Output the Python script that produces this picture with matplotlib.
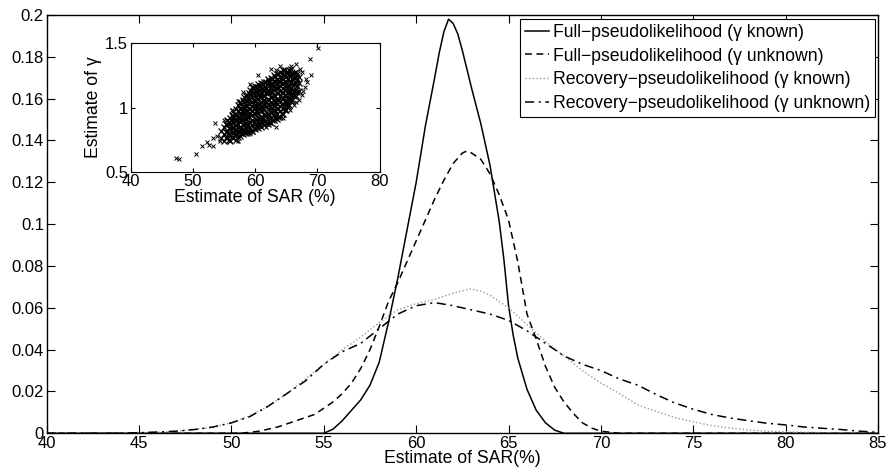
import matplotlib
matplotlib.use("Agg")
import matplotlib.pyplot as plt

plt.rcParams['font.family'] = ['Liberation Sans', 'DejaVu Sans']

# density curves
full_known_x = [40, 55.0, 55.5, 56.0, 56.5, 57.0, 57.5, 58.0, 58.5, 59.0, 59.5, 60.0, 60.5, 61.0,
                61.25, 61.5, 61.75, 62.0, 62.25, 62.5, 63.0, 63.5, 64.0, 64.5, 64.75, 65.0, 65.25,
                65.5, 66.0, 66.5, 67.0, 67.5, 68.0, 85]
full_known_y = [0, 0, 0.002, 0.006, 0.011, 0.016, 0.023, 0.034, 0.053, 0.074, 0.097, 0.120, 0.147, 0.170,
                0.182, 0.192, 0.198, 0.196, 0.191, 0.183, 0.165, 0.148, 0.128, 0.101, 0.083, 0.061, 0.047,
                0.036, 0.021, 0.011, 0.005, 0.0015, 0, 0]

full_unknown_x = [40, 50.5, 51.5, 52.5, 53.5, 54.5, 55.0, 55.5, 56.0, 56.5, 57.0, 57.5, 58.0, 58.5, 59.0,
                  59.5, 60.0, 60.5, 61.0, 61.5, 62.0, 62.5, 62.75, 63.0, 63.5, 64.0, 64.5, 65.0, 65.5,
                  66.0, 66.5, 67.0, 67.5, 68.0, 68.5, 69.0, 69.5, 70.0, 71.0, 85]
full_unknown_y = [0, 0, 0.001, 0.003, 0.006, 0.009, 0.012, 0.015, 0.019, 0.024, 0.031, 0.040, 0.051, 0.063, 0.072,
                  0.082, 0.092, 0.102, 0.112, 0.121, 0.129, 0.134, 0.135, 0.134, 0.131, 0.124, 0.114, 0.102, 0.082,
                  0.057, 0.045, 0.032, 0.022, 0.015, 0.0096, 0.005, 0.0025, 0.001, 0, 0]

rec_known_x = [40, 44, 45, 46, 47, 48, 49, 50, 51, 52, 53, 54, 55, 56, 57, 58, 59, 60, 61, 62, 62.9,
               63.5, 64, 65, 66, 67, 68, 69, 70, 71, 72, 73, 74, 75, 76, 77, 78, 79, 80, 82, 85]
rec_known_y = [0, 0, 0.0002, 0.0005, 0.001, 0.0018, 0.003, 0.005, 0.0085, 0.013, 0.019, 0.026, 0.033, 0.040,
               0.046, 0.053, 0.059, 0.062, 0.064, 0.067, 0.069, 0.068, 0.066, 0.060, 0.052, 0.044, 0.037,
               0.030, 0.024, 0.019, 0.0135, 0.0105, 0.0075, 0.0055, 0.0037, 0.0025, 0.0016, 0.001, 0.0007,
               0.0003, 0.0001]

rec_unknown_x = [40, 44, 45, 46, 47, 48, 49, 50, 51, 52, 53, 54, 55, 56, 57, 58, 59, 60, 61, 62, 63, 64,
                 65, 66, 67, 68, 69, 70, 71, 72, 73, 74, 75, 76, 77, 78, 79, 80, 81, 82, 83, 84, 85]
rec_unknown_y = [0, 0, 0.0003, 0.0006, 0.001, 0.0018, 0.003, 0.005, 0.008, 0.013, 0.019, 0.025, 0.033, 0.039,
                 0.043, 0.050, 0.057, 0.061, 0.0625, 0.061, 0.059, 0.057, 0.054, 0.049, 0.043, 0.037, 0.033,
                 0.030, 0.026, 0.023, 0.0185, 0.0145, 0.0115, 0.009, 0.0073, 0.006, 0.0048, 0.004, 0.003,
                 0.0024, 0.0018, 0.001, 0.0005]

labels = ['Full\u2212pseudolikelihood (\u03b3 known)',
          'Full\u2212pseudolikelihood (\u03b3 unknown)',
          'Recovery\u2212pseudolikelihood (\u03b3 known)',
          'Recovery\u2212pseudolikelihood (\u03b3 unknown)']

# inset scatter: estimated SAR vs estimated gamma (dense core columns + stray points)
core_cols = {
    54.5: [0.76, 0.82],
    55.0: [0.74, 0.79, 0.85],
    55.25: [0.76, 0.81, 0.87],
    55.5: [0.77, 0.81, 0.86, 0.90],
    55.75: [0.75, 0.80, 0.84, 0.89],
    56.0: [0.74, 0.78, 0.83, 0.87, 0.92],
    56.25: [0.77, 0.81, 0.85, 0.90, 0.94],
    56.5: [0.76, 0.80, 0.84, 0.88, 0.93, 0.97],
    56.75: [0.78, 0.82, 0.86, 0.91, 0.95],
    57.0: [0.75, 0.79, 0.83, 0.86, 0.90, 0.94, 0.99],
    57.25: [0.77, 0.81, 0.87, 0.92, 0.97, 1.02],
    57.5: [0.78, 0.82, 0.85, 0.89, 0.92, 0.96, 1.00, 1.04],
    57.75: [0.80, 0.84, 0.91, 0.95, 0.99, 1.03],
    58.0: [0.79, 0.83, 0.87, 0.90, 0.94, 0.97, 1.01, 1.06],
    58.25: [0.81, 0.86, 0.92, 0.96, 1.00, 1.04, 1.08],
    58.5: [0.80, 0.84, 0.88, 0.91, 0.95, 0.98, 1.02, 1.05, 1.09],
    58.75: [0.82, 0.87, 0.93, 0.97, 1.01, 1.06, 1.10],
    59.0: [0.81, 0.85, 0.89, 0.93, 0.96, 0.99, 1.03, 1.07, 1.11],
    59.25: [0.83, 0.88, 0.95, 1.00, 1.05, 1.10, 1.14],
    59.5: [0.82, 0.86, 0.90, 0.94, 0.97, 1.01, 1.04, 1.08, 1.12, 1.16],
    59.75: [0.84, 0.89, 0.96, 1.00, 1.06, 1.11, 1.15],
    60.0: [0.83, 0.87, 0.91, 0.95, 0.99, 1.02, 1.05, 1.09, 1.13, 1.17],
    60.25: [0.86, 0.90, 0.97, 1.01, 1.07, 1.12, 1.16],
    60.5: [0.84, 0.88, 0.92, 0.96, 1.00, 1.03, 1.07, 1.10, 1.14, 1.18],
    60.75: [0.86, 0.92, 0.99, 1.03, 1.09, 1.13, 1.17],
    61.0: [0.85, 0.89, 0.93, 0.97, 1.01, 1.04, 1.08, 1.11, 1.15, 1.19],
    61.25: [0.88, 0.92, 1.00, 1.05, 1.10, 1.14, 1.18],
    61.5: [0.86, 0.90, 0.94, 0.98, 1.02, 1.06, 1.09, 1.13, 1.16, 1.20],
    61.75: [0.88, 0.94, 1.01, 1.05, 1.11, 1.15, 1.20],
    62.0: [0.87, 0.91, 0.95, 0.99, 1.03, 1.07, 1.11, 1.14, 1.18, 1.22],
    62.25: [0.89, 0.95, 1.02, 1.06, 1.12, 1.17, 1.21],
    62.5: [0.88, 0.92, 0.96, 1.00, 1.04, 1.08, 1.12, 1.16, 1.19, 1.23],
    62.75: [0.90, 0.97, 1.03, 1.08, 1.13, 1.18, 1.22],
    63.0: [0.90, 0.94, 0.98, 1.02, 1.06, 1.10, 1.14, 1.17, 1.21, 1.25],
    63.25: [0.92, 0.98, 1.04, 1.09, 1.15, 1.20, 1.24],
    63.5: [0.91, 0.95, 0.99, 1.03, 1.07, 1.11, 1.15, 1.19, 1.22, 1.26],
    63.75: [0.93, 1.00, 1.06, 1.11, 1.16, 1.21, 1.26],
    64.0: [0.93, 0.97, 1.01, 1.05, 1.09, 1.13, 1.17, 1.20, 1.24, 1.28],
    64.25: [0.95, 1.02, 1.08, 1.12, 1.18, 1.23, 1.27],
    64.5: [0.95, 0.99, 1.03, 1.07, 1.11, 1.15, 1.19, 1.22, 1.25, 1.29],
    64.75: [0.98, 1.04, 1.10, 1.14, 1.20, 1.25, 1.29],
    65.0: [0.98, 1.02, 1.06, 1.10, 1.14, 1.17, 1.20, 1.24, 1.28],
    65.25: [1.01, 1.07, 1.12, 1.17, 1.22, 1.27],
    65.5: [1.02, 1.06, 1.10, 1.14, 1.17, 1.21, 1.25, 1.29],
    65.75: [1.05, 1.10, 1.15, 1.20, 1.25, 1.30],
    66.0: [1.06, 1.10, 1.14, 1.18, 1.22, 1.26],
    66.25: [1.09, 1.13, 1.18, 1.23, 1.27],
    66.5: [1.09, 1.14, 1.19, 1.24, 1.28],
    66.75: [1.12, 1.17, 1.22, 1.26],
    67.0: [1.13, 1.19, 1.24],
}
stray_sar = [47.3, 47.8, 50.5, 51.4, 52.3, 52.6, 53.2, 53.3, 53.6, 53.8, 54.3, 55.0, 56.1, 56.2, 57.3,
             58.0, 59.15, 60.5, 62.5, 63.4, 63.4, 61.8, 60.0, 59.7, 64.5, 65.6, 66.2, 66.5, 67.0, 67.5,
             67.7, 68.0, 68.2, 67.6, 66.6, 68.8, 70.1, 65.8, 69.0, 64.0, 59.0, 57.2, 68.4, 67.2]
stray_gamma = [0.61, 0.60, 0.64, 0.70, 0.73, 0.71, 0.76, 0.70, 0.88, 0.78, 0.74, 0.90, 0.90, 0.98, 1.05,
               1.12, 1.18, 1.25, 1.30, 1.29, 0.85, 0.85, 0.84, 0.81, 0.92, 0.98, 1.02, 1.04, 1.06, 1.10,
               1.13, 1.16, 1.22, 1.28, 1.34, 1.375, 1.46, 1.32, 1.25, 1.32, 0.79, 0.74, 1.20, 1.30]

fig = plt.figure(figsize=(8.9, 4.75), dpi=100)
ax = fig.add_axes([0.0525, 0.0878, 0.934, 0.8806])

ax.plot(full_known_x, full_known_y, color='black', lw=1.1, ls='-', label=labels[0])
ax.plot(full_unknown_x, full_unknown_y, color='black', lw=1.1, dashes=(4.5, 3), label=labels[1])
ax.plot(rec_known_x, rec_known_y, color='#999999', lw=1.0, dashes=(1, 1.6), label=labels[2])
ax.plot(rec_unknown_x, rec_unknown_y, color='black', lw=1.1, dashes=(6, 3, 1.3, 3), label=labels[3])

ax.set_xlim(40, 85)
ax.set_ylim(0, 0.2)
ax.set_xticks(range(40, 86, 5))
ax.set_yticks([0, 0.02, 0.04, 0.06, 0.08, 0.1, 0.12, 0.14, 0.16, 0.18, 0.2])
ax.set_yticklabels(['0', '0.02', '0.04', '0.06', '0.08', '0.1', '0.12', '0.14', '0.16', '0.18', '0.2'])
ax.tick_params(direction='in', top=True, right=True, length=6, width=0.8, labelsize=12, pad=2)
for s in ax.spines.values():
    s.set_linewidth(1.0)
ax.set_xlabel('Estimate of SAR(%)', fontsize=12.7, labelpad=-1)

leg = ax.legend(loc='upper right', bbox_to_anchor=(0.9964, 0.9904), borderaxespad=0,
                fontsize=12.7, fancybox=False, framealpha=1, edgecolor='black',
                handlelength=1.4, handletextpad=0.2, labelspacing=0.38, borderpad=0.28)
leg.get_frame().set_linewidth(0.8)

# inset
ins = fig.add_axes([0.1469, 0.6385, 0.2796, 0.2703])
core_sar = []
core_gamma = []
for xv, ys in core_cols.items():
    for yv in ys:
        core_sar.append(xv)
        core_gamma.append(yv)
ins.plot(core_sar, core_gamma, 'x', color='black', ms=4, mew=0.9)
ins.plot(stray_sar, stray_gamma, 'x', color='black', ms=3, mew=0.7)
ins.set_xlim(40, 80)
ins.set_ylim(0.5, 1.5)
ins.set_xticks([40, 50, 60, 70, 80])
ins.set_yticks([0.5, 1, 1.5])
ins.set_yticklabels(['0.5', '1', '1.5'])
ins.tick_params(direction='in', top=True, right=True, length=3, width=0.8, labelsize=12, pad=2)
ins.set_xlabel('Estimate of SAR (%)', fontsize=12.7, labelpad=0)
ins.set_ylabel('Estimate of \u03b3', fontsize=12.7, labelpad=2)

fig.savefig('out.png', dpi=100)
